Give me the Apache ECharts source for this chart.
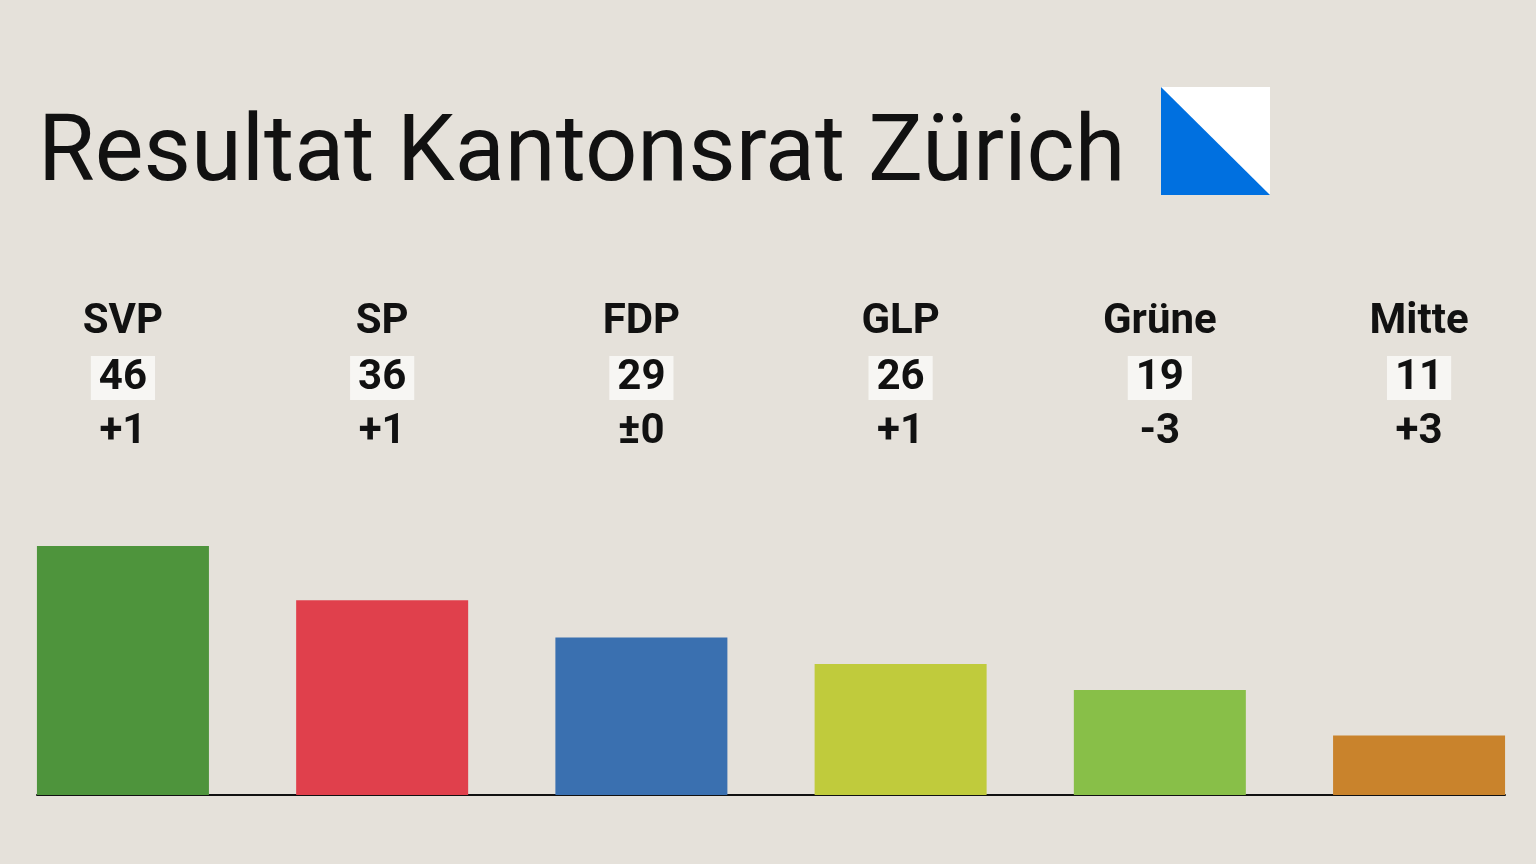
<!DOCTYPE html><html><head><meta charset="utf-8"><script src="https://cdn.jsdelivr.net/npm/echarts@6/dist/echarts.min.js"></script>
<style>html,body{margin:0;background:#e5e1da}#c{width:1536px;height:864px}</style></head><body><div id="c"></div><script>
const parties=['SVP','SP','FDP','GLP','Grüne','Mitte'];
const seats=[46,36,29,26,19,11];
const barValues=[46,36,29.1,24.2,19.4,11];
const changes=['+1','+1','±0','+1','-3','+3'];
const colors=['#4e943c','#e0404c','#3a70b0','#c0cb3c','#88bf48','#c9832c'];
const chart=echarts.init(document.getElementById('c'));
const LABEL_Y=61.8;
const txt={fontSize:42,fontWeight:'bold',color:'#111111',lineHeight:55,fontFamily:'Roboto',align:'center',textBorderWidth:0,opacity:1};
chart.setOption({
 backgroundColor:'#e5e1da',
 title:{text:'Resultat Kantonsrat Zürich',left:33,top:106,textStyle:{fontFamily:'Roboto',fontWeight:'normal',fontSize:92,color:'#111'}},
 graphic:[
  {type:'rect',shape:{x:1161,y:87,width:109,height:108},style:{fill:'#ffffff'}},
  {type:'polygon',shape:{points:[[1161,87],[1270,195],[1161,195]]},style:{fill:'#0070e0'}}
 ],
 grid:{left:37,right:31,bottom:69,top:297},
 xAxis:{type:'value',min:-0.3315,max:5.3315,axisLine:{onZero:true,lineStyle:{color:'#111',width:2}},axisTick:{show:false},axisLabel:{show:false},splitLine:{show:false}},
 yAxis:{type:'value',min:0,max:92,show:false,splitLine:{show:false}},
 series:[
  {type:'bar',barWidth:172,data:barValues.map((v,i)=>({value:[i,v],itemStyle:{color:colors[i]}})),animation:false},
  {type:'scatter',symbolSize:0,clip:false,animation:false,silent:true,itemStyle:{opacity:1,color:'#111'},
   data:parties.map((p,i)=>[i,LABEL_Y]),
   label:{show:true,position:'top',distance:0,color:'#111111',opacity:1,textBorderWidth:0,fontFamily:'Roboto',
    formatter:p=>'{n|'+parties[p.dataIndex]+'}\n{s|'+seats[p.dataIndex]+'}\n{c|'+changes[p.dataIndex]+'}',
    rich:{n:txt,s:Object.assign({},txt,{backgroundColor:'#f7f6f3',padding:[2,8,0,8]}),c:txt}}}
 ]
});
</script></body></html>
